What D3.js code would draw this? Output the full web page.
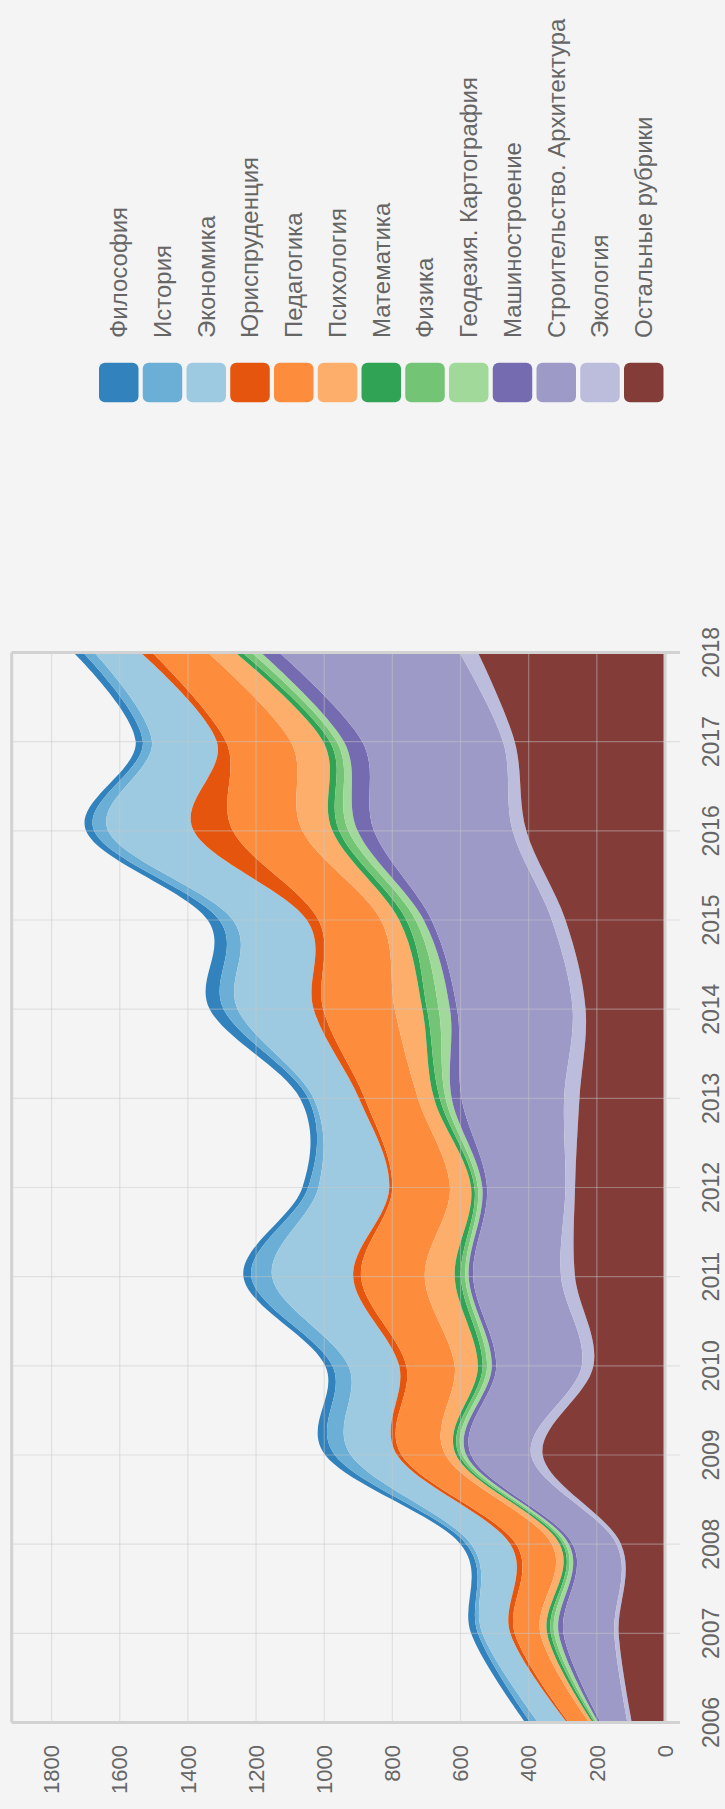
<!DOCTYPE html>
<html><head><meta charset="utf-8">
<script src="https://cdn.jsdelivr.net/npm/d3@7"></script>
<style>html,body{margin:0;padding:0;background:#f4f4f4;} svg{display:block;}</style>
</head><body>
<svg id="c" width="725" height="1809"></svg>
<script>
const years = [2006,2007,2008,2009,2010,2011,2012,2013,2014,2015,2016,2017,2018];
const seriesNames = ["Философия","История","Экономика","Юриспруденция","Педагогика","Психология","Математика","Физика","Геодезия. Картография","Машиностроение","Строительство. Архитектура","Экология","Остальные рубрики"];
const seriesColors = ["#3182bd","#6baed6","#9ecae1","#e6550d","#fd8d3c","#fdae6b","#31a354","#74c476","#a1d99b","#756bb1","#9e9ac8","#bcbddc","#843c39"];
const philosophy   = [15,20,17,28,21,23,17,24,41,34,24,21,28];
const history      = [23,13,14,47,47,61,30,16,41,40,41,27,33];
const economics    = [85,82,115,136,149,238,208,133,223,217,251,190,136];
const law          = [5,13,17,13,21,23,9,17,28,34,115,27,34];
const pedagogy     = [60,75,105,129,142,187,169,156,210,183,204,190,163];
const psychology   = [10,20,23,31,68,88,62,47,81,54,88,95,81];
const mathematics  = [6,11,9,9,14,18,10,17,14,21,20,20,20];
const physics      = [5,10,8,10,13,13,10,17,34,27,27,20,27];
const geodesy      = [6,13,10,11,14,10,13,18,33,24,27,21,28];
const engineering  = [7,14,11,14,13,13,14,29,21,23,48,54,54];
const construction = [78,149,129,176,251,258,230,301,339,353,407,413,529];
const ecology      = [13,13,13,34,34,41,28,45,38,40,40,34,54];
const other        = [97,136,129,359,210,264,264,251,233,292,407,441,549];
const valueTicks = [0,200,400,600,800,1000,1200,1400,1600,1800];

const seriesValues = [philosophy,history,economics,law,pedagogy,psychology,mathematics,physics,geodesy,engineering,construction,ecology,other];
const rows = years.map((yr,i)=>{const r={year:yr}; seriesNames.forEach((n,k)=>r[n]=seriesValues[k][i]); return r;});

const W = 1809, H = 725;
const svg = d3.select("#c");
const g = svg.append("g").attr("transform",`translate(0,${W}) rotate(-90)`);

const x = d3.scaleLinear().domain([2006,2018]).range([86.5,1156.5]);
const y = d3.scaleLinear().domain([0,1917]).range([665,11.7]);
const color = d3.scaleOrdinal().domain(seriesNames).range(seriesColors);

const stack = d3.stack().keys(seriesNames).order(d3.stackOrderReverse);
const layers = stack(rows);
const area = d3.area().x(d=>x(d.data.year)).y0(d=>y(d[0])).y1(d=>y(d[1])).curve(d3.curveCardinal);

g.append("clipPath").attr("id","clip").append("rect")
  .attr("x",x(2006)).attr("y",y(1917)).attr("width",x(2018)-x(2006)).attr("height",y(0)-y(1917));

g.append("g").attr("clip-path","url(#clip)").selectAll("path").data(layers).enter().append("path")
  .attr("d",area).attr("fill",d=>color(d.key));

// grid
const grid = g.append("g");
grid.selectAll(".vg").data(valueTicks).enter().append("line")
  .attr("x1",x(2006)).attr("x2",x(2018)).attr("y1",d=>y(d)).attr("y2",d=>y(d))
  .attr("stroke","#c8c8c8").attr("stroke-opacity",0.45).attr("stroke-width",1.2);
grid.selectAll(".yg").data(years).enter().append("line")
  .attr("x1",d=>x(d)).attr("x2",d=>x(d)).attr("y1",y(1917)).attr("y2",680)
  .attr("stroke","#c8c8c8").attr("stroke-opacity",0.45).attr("stroke-width",1.2);
// frame
const frame = g.append("g").attr("stroke","#d2d2d2").attr("stroke-width",3);
frame.append("line").attr("x1",x(2006)).attr("x2",x(2018)).attr("y1",y(1917)).attr("y2",y(1917));
frame.append("line").attr("x1",x(2006)).attr("x2",x(2018)).attr("y1",y(0)).attr("y2",y(0));
frame.append("line").attr("x1",x(2006)).attr("x2",x(2006)).attr("y1",y(1917)).attr("y2",680);
frame.append("line").attr("x1",x(2018)).attr("x2",x(2018)).attr("y1",y(1917)).attr("y2",680);

const font = "'Liberation Sans', Arial, sans-serif";
// value labels
g.append("g").selectAll("text").data(valueTicks).enter().append("text")
  .attr("x",64).attr("y",d=>y(d)).attr("dy","0.35em").attr("text-anchor","end")
  .attr("font-family",font).attr("font-size",22).attr("fill","#666").text(d=>d);
// year labels
g.append("g").selectAll("text").data(years).enter().append("text")
  .attr("x",d=>x(d)).attr("y",719).attr("text-anchor","middle")
  .attr("font-family",font).attr("font-size",23).attr("fill","#666").text(d=>d);

// legend
const leg = g.append("g").selectAll("g").data(seriesNames).enter().append("g")
  .attr("transform",(d,i)=>`translate(1406.7,${99+i*43.75})`);
leg.append("rect").attr("width",39.5).attr("height",39.5).attr("rx",6).attr("fill",d=>color(d));
leg.append("text").attr("x",64.3).attr("y",19.75).attr("dy","0.35em")
  .attr("font-family",font).attr("font-size",24).attr("fill","#666").text(d=>d);
</script>
</body></html>
